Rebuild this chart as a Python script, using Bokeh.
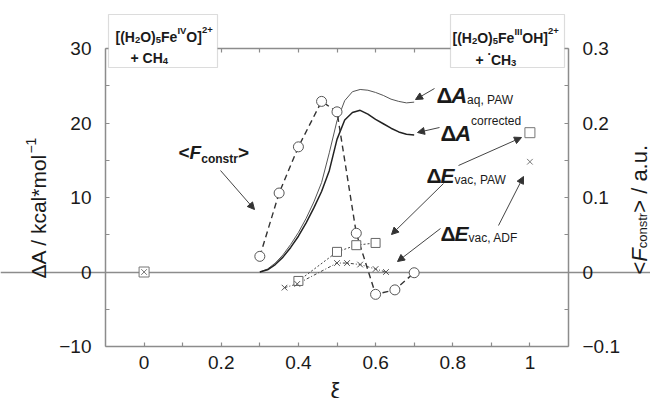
import math
from bokeh.plotting import figure
from bokeh.models import (Range1d, LinearAxis, FixedTicker, CustomJSTickFormatter,
                          Grid, Label, Arrow, NormalHead, BoxAnnotation)
from bokeh.embed import file_html
from bokeh.resources import INLINE

# ---------------- data ----------------
xi_curve = [0.30, 0.32, 0.34, 0.36, 0.38, 0.40, 0.42, 0.44, 0.46, 0.48, 0.50,
            0.52, 0.54, 0.56, 0.58, 0.60, 0.62, 0.64, 0.66, 0.68, 0.70]
dA_aq_paw = [0.0, 0.4, 1.2, 2.3, 3.7, 5.3, 7.2, 9.4, 12.0, 16.0, 20.3,
             23.0, 24.2, 24.5, 24.4, 24.1, 23.7, 23.2, 22.9, 22.7, 22.8]
dA_corr = [0.0, 0.3, 1.0, 2.0, 3.3, 4.8, 6.6, 8.6, 10.8, 13.6, 17.8,
           20.4, 21.4, 21.7, 21.2, 20.5, 19.9, 19.3, 18.8, 18.5, 18.4]

xi_F = [0.30, 0.35, 0.40, 0.46, 0.50, 0.55, 0.60, 0.65, 0.70]
F_constr = [0.021, 0.106, 0.168, 0.229, 0.215, 0.052, -0.030, -0.024, -0.001]

xi_paw = [0.40, 0.50, 0.55, 0.60]
dE_vac_paw = [-1.2, 2.7, 3.6, 3.9]
xi_adf = [0.364, 0.397, 0.50, 0.526, 0.56, 0.60, 0.627]
dE_vac_adf = [-2.1, -1.6, 1.2, 1.2, 1.0, 0.4, 0.0]

xi_end = [0.0, 1.0]
paw_end = [0.0, 18.7]
adf_end = [0.0, 14.8]

x_ticks = [0.0, 0.2, 0.4, 0.6, 0.8, 1.0]
x_minor = [0.1, 0.3, 0.5, 0.7, 0.9]
y_ticks = [-10, 0, 10, 20, 30]
y_minor = [-5, 5, 15, 25]
f_ticks = [-0.1, 0.0, 0.1, 0.2, 0.3]
f_minor = [-0.05, 0.05, 0.15, 0.25]

# ---------------- layout ----------------
W, H = 650, 398
FL, FR, FT, FB = 105, 568, 48, 346   # plot-box edges in canvas px
X0, X1, Y0, Y1 = -0.1, 1.1, -10.0, 30.0
F0, F1 = -0.1, 0.3
TXT = "#1a1a1a"
AX = "#8c8c8c"
FONT = "Liberation Sans"

# the frame covers the whole canvas; the ranges are widened so that the
# plot box [X0,X1]x[Y0,Y1] falls on the pixel box above
sx = (X1 - X0) / (FR - FL)
sy = (Y1 - Y0) / (FB - FT)
XR0, XR1 = X0 - FL * sx, X1 + (W - FR) * sx
YR0, YR1 = Y0 - (H - FB) * sy, Y1 + FT * sy
fs = (F1 - F0) / (Y1 - Y0)
FR0, FR1 = F0 + (YR0 - Y0) * fs, F0 + (YR1 - Y0) * fs


def px2x(px):  # canvas px -> data x
    return XR0 + px * sx


def px2y(py):
    return YR1 - py * sy


p = figure(width=W, height=H, x_range=Range1d(XR0, XR1), y_range=Range1d(YR0, YR1),
           output_backend="svg", toolbar_location=None,
           min_border_left=0, min_border_right=0, min_border_top=0, min_border_bottom=0)
p.title.visible = False
p.grid.visible = False
p.outline_line_color = None
p.background_fill_color = "white"
p.border_fill_color = "white"

fmt = CustomJSTickFormatter(code="""
    let v = Math.round(tick * 1000) / 1000;
    if (Math.abs(v) < 1e-9) return "0";
    return String(v).replace("-", "\u2212");
""")


def style_axis(ax, labels=True):
    ax.axis_line_color = AX
    ax.axis_line_width = 1.5
    ax.major_tick_line_color = AX
    ax.minor_tick_line_color = AX
    ax.major_tick_line_width = 1.2
    ax.minor_tick_line_width = 1.2
    ax.major_tick_in = 4
    ax.major_tick_out = 0
    ax.minor_tick_in = 4
    ax.minor_tick_out = 0
    ax.formatter = fmt
    ax.major_label_text_font = FONT
    ax.major_label_text_font_size = "19px"
    ax.major_label_text_color = TXT if labels else None


xa = p.xaxis[0]
xa.ticker = FixedTicker(ticks=x_ticks, minor_ticks=x_minor)
xa.fixed_location = Y0
xa.bounds = (X0, X1)
style_axis(xa)
xa.major_label_standoff = 9

ya = p.yaxis[0]
ya.ticker = FixedTicker(ticks=y_ticks, minor_ticks=y_minor)
ya.fixed_location = X0
ya.bounds = (Y0, Y1)
style_axis(ya)
ya.major_label_standoff = 14

p.extra_y_ranges = {"F": Range1d(FR0, FR1)}
ra = LinearAxis(y_range_name="F", ticker=FixedTicker(ticks=f_ticks, minor_ticks=f_minor),
                fixed_location=X1, bounds=(F0, F1))
style_axis(ra)
ra.major_label_standoff = 14
p.add_layout(ra, "right")

ta = LinearAxis(ticker=FixedTicker(ticks=x_ticks, minor_ticks=x_minor),
                fixed_location=Y1, bounds=(X0, X1))
style_axis(ta, labels=False)
p.add_layout(ta, "above")

# zero reference line
p.add_layout(Grid(dimension=1, ticker=FixedTicker(ticks=[0]), bounds=(X0, X1),
                  grid_line_color=AX, grid_line_width=1.5))

# ---------------- series ----------------
p.line(xi_curve, dA_aq_paw, line_color="#555555", line_width=1.0)
p.line(xi_curve, dA_corr, line_color="#222222", line_width=1.5)

p.line(xi_paw, dE_vac_paw, line_color="#444444", line_width=1.0, line_dash="2 2")
p.line(xi_adf, dE_vac_adf, line_color="#444444", line_width=1.0, line_dash="3 2 1 2")

p.line(xi_F, F_constr, y_range_name="F", line_color="#333333", line_width=1.4, line_dash="6 4")
p.scatter(xi_F, F_constr, y_range_name="F", marker="circle", size=10,
          line_color="#555555", fill_color="white", line_width=1.0)

p.scatter(xi_paw, dE_vac_paw, marker="square", size=9, line_color="#666666",
          fill_color="white", line_width=1.0)
p.scatter(xi_adf, dE_vac_adf, marker="x", size=8, line_color="#555555", line_width=1.0)

p.scatter(xi_end, paw_end, marker="square", size=10, line_color="#777777",
          fill_color="white", line_width=1.0)
p.scatter(xi_end, adf_end, marker="x", size=8, line_color="#777777", line_width=1.0)

# ---------------- rich text helper ----------------
WREG = {' ': 278, ',': 278, '.': 278, '/': 278, '*': 389, '<': 584, '>': 584,
        '\u2212': 584, '-': 333, 'a': 556, 'c': 500, 'd': 556, 'e': 556, 'k': 500,
        'l': 222, 'm': 833, 'n': 556, 'o': 556, 'q': 556, 'r': 333, 's': 500,
        't': 278, 'u': 556, 'v': 500, 'A': 667, 'D': 722, 'E': 667, 'F': 611,
        'P': 667, 'W': 944, '\u0394': 668}
WBOLD = {' ': 278, '[': 333, ']': 333, '(': 333, ')': 333, '+': 584, '\u00b7': 278,
         '<': 584, '>': 584, 'C': 722, 'H': 722, 'O': 778, 'F': 611, 'I': 278,
         'V': 667, 'E': 667, 'A': 722, 'e': 556, 'c': 556, 'o': 611, 'n': 611,
         's': 556, 't': 333, 'r': 389, '\u0394': 668}


def tw(s, size, bold):
    tbl = WBOLD if bold else WREG
    return sum(tbl.get(ch, 556) for ch in s) * size / 1000.0


def rich(px, py, pieces, angle=0.0, anchor_end=False):
    """Place a run of text pieces starting at canvas px, py (baseline)."""
    ca, sa = math.cos(angle), math.sin(angle)
    x, y = float(px), float(py)
    for text, size, style, shift in pieces:
        w = tw(text, size, "bold" in style)
        ax_, ay_ = (x + ca * w, y - sa * w) if anchor_end else (x, y)
        bx = ax_ - sa * shift
        by = ay_ - ca * shift
        p.add_layout(Label(x=bx, y=by, x_units="canvas", y_units="canvas",
                           text=text, text_font=FONT,
                           text_font_size=f"{size}px", text_font_style=style,
                           text_color=TXT, angle=angle,
                           text_align="right" if anchor_end else "left",
                           text_baseline="alphabetic"))
        x += ca * w
        y -= sa * w


def arrow(x1, y1, x2, y2):
    p.add_layout(Arrow(end=NormalHead(size=7, line_color="#333333", fill_color="#333333",
                                      line_width=1),
                       x_start=px2x(x1), y_start=px2y(y1), x_end=px2x(x2), y_end=px2y(y2),
                       line_color="#444444", line_width=1))


# ---------------- annotations ----------------
arrow(220, 170, 254, 209)
arrow(434, 88, 415, 99)
arrow(439, 127, 417, 132)
arrow(458, 165, 521, 137)
arrow(443, 183, 391, 234)
arrow(440, 228, 397, 261)
arrow(498, 225, 523, 176)

rich(178, 152, [("<", 19, "bold", 0), ("F", 19, "bold italic", 0),
                ("constr", 12, "bold", -6), (">", 19, "bold", 0)])
rich(436, 95, [("\u0394", 22, "bold", 0), ("A", 22, "bold italic", 0),
               ("aq, PAW", 12, "normal", -4)])
rich(440, 133, [("\u0394", 22, "bold", 0), ("A", 22, "bold italic", 0),
                ("corrected", 12, "normal", 13)])
rich(426, 175, [("\u0394", 21, "bold", 0), ("E", 21, "bold italic", 0),
                ("vac, PAW", 12, "normal", -4)])
rich(440, 233, [("\u0394", 21, "bold", 0), ("E", 21, "bold italic", 0),
                ("vac, ADF", 12, "normal", -4)])

# boxes with reactant / product
for l, r in ((108, 217), (450, 564)):
    p.add_layout(BoxAnnotation(left=l, right=r, top=14, bottom=67,
                               left_units="canvas", right_units="canvas",
                               top_units="canvas", bottom_units="canvas",
                               fill_color="white", fill_alpha=1.0, line_color="#8c8c8c",
                               line_width=1.2))

rich(115, 36, [("[(H", 14, "bold", 0), ("2", 9.5, "bold", -3), ("O)", 14, "bold", 0),
               ("5", 9.5, "bold", -3), ("Fe", 14, "bold", 0), ("IV", 9.5, "bold", 6),
               ("O]", 14, "bold", 0), ("2+", 9.5, "bold", 7)])
rich(130, 57, [("+ CH", 14, "bold", 0), ("4", 9.5, "bold", -3)])
rich(452, 37, [("[(H", 14, "bold", 0), ("2", 9.5, "bold", -3), ("O)", 14, "bold", 0),
               ("5", 9.5, "bold", -3), ("Fe", 14, "bold", 0), ("III", 9.5, "bold", 6),
               ("OH]", 14, "bold", 0), ("2+", 9.5, "bold", 7)])
rich(475, 59, [("+ ", 14, "bold", 0), ("\u00b7", 12, "bold", 6), ("CH", 14, "bold", 0),
               ("3", 9.5, "bold", -3)])

# axis titles
rich(38, 278, [("\u0394A / kcal*mol", 21, "normal", 0), ("\u22121", 14, "normal", 8)],
     angle=math.pi / 2)
rich(639, 274, [("<", 22, "normal", 0), ("F", 22, "italic", 0), ("constr", 13, "normal", -3),
                ("> / a.u.", 22, "normal", 0)], angle=math.pi / 2, anchor_end=True)
p.add_layout(Label(x=335, y=390, x_units="canvas", y_units="canvas",
                   text="\u03be", text_font=FONT,
                   text_font_size="22px", text_color=TXT, text_align="center",
                   text_baseline="alphabetic"))

open("out.html", "w").write(file_html(p, INLINE))
